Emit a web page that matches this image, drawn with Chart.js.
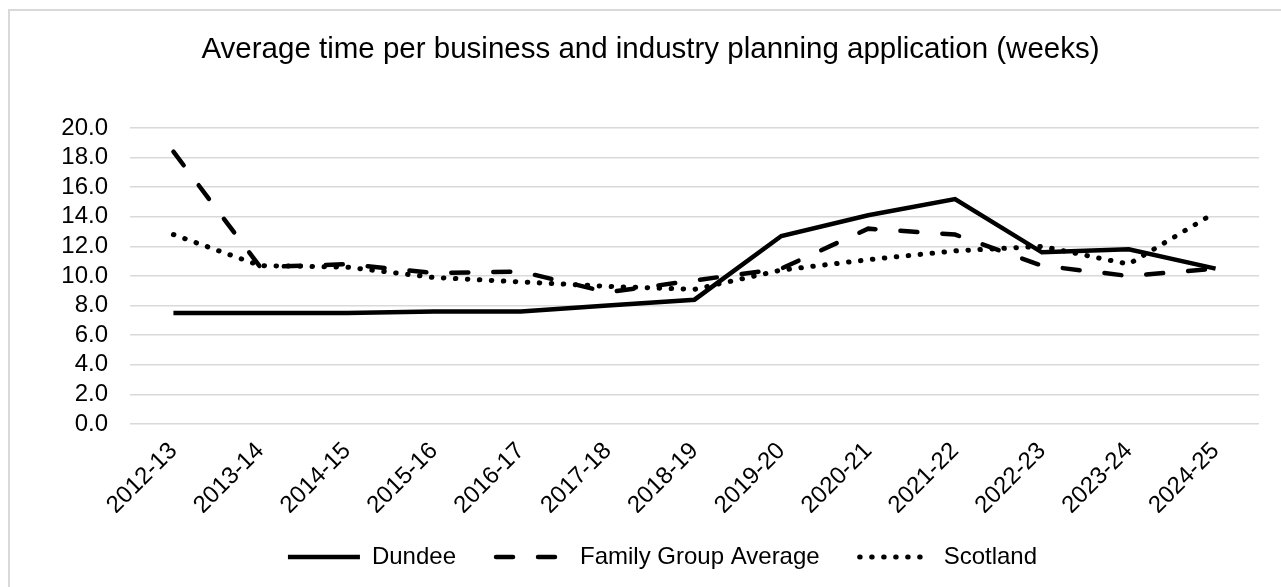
<!DOCTYPE html>
<html>
<head>
<meta charset="utf-8">
<title>Average time per business and industry planning application (weeks)</title>
<script src="https://cdn.jsdelivr.net/npm/chart.js@4.4.1/dist/chart.umd.min.js"></script>
<style>
  html, body { margin: 0; padding: 0; background: #fff; overflow: hidden; }
  .frame { position: absolute; left: 8px; top: 9px; width: 1300px; height: 620px; border: 2px solid #d9d9d9; }
  #chart { position: absolute; left: 0; top: 0; }
</style>
</head>
<body>
<div class="frame"></div>
<canvas id="chart" width="1281" height="587"></canvas>
<script>
// Financial years on the x axis
const years = ['2012-13', '2013-14', '2014-15', '2015-16', '2016-17', '2017-18', '2018-19',
               '2019-20', '2020-21', '2021-22', '2022-23', '2023-24', '2024-25'];

// Average weeks per application
const dundee      = [7.5, 7.5, 7.5, 7.6, 7.6, 8.0, 8.4, 12.7, 14.1, 15.2, 11.6, 11.8, 10.5];
const familyGroup = [18.4, 10.6, 10.8, 10.2, 10.3, 8.9, 9.7, 10.5, 13.2, 12.8, 10.7, 10.0, 10.5];
const scotland    = [12.8, 10.7, 10.6, 9.9, 9.6, 9.3, 9.1, 10.4, 11.1, 11.7, 12.0, 10.8, 14.3];

const yMin = 0;
const yMax = 20;
const yStep = 2;

const FONT = '"Liberation Sans", Arial, sans-serif';
Chart.defaults.font.family = FONT;
Chart.defaults.color = '#000';

const lineStyle = {
  borderColor: '#000',
  backgroundColor: '#000',
  borderWidth: 4.5,
  pointRadius: 0,
  pointHoverRadius: 0,
  tension: 0,
  fill: false
};

// legend entries pick up the dash pattern of their line
const defaultLabels = Chart.defaults.plugins.legend.labels.generateLabels;
function legendLabels(chart) {
  return defaultLabels(chart).map(item => {
    const ds = chart.data.datasets[item.datasetIndex];
    item.lineDash = ds.borderDash || [];
    item.lineCap = ds.borderCapStyle || 'butt';
    item.lineWidth = ds.borderWidth;
    item.strokeStyle = ds.borderColor;
    return item;
  });
}

// the wide item padding makes the legend box tall; pull the row up and nudge it right
const legendShift = {
  id: 'legendShift',
  afterLayout(chart) {
    const lg = chart.legend;
    lg.top -= 8;
    lg.bottom -= 8;
    lg.left += 12;
    lg.right += 12;
  }
};

new Chart(document.getElementById('chart'), {
  type: 'line',
  data: {
    labels: years,
    datasets: [
      { ...lineStyle, label: 'Dundee', data: dundee, borderCapStyle: 'butt' },
      { ...lineStyle, label: 'Family Group Average', data: familyGroup, borderDash: [17, 25], borderCapStyle: 'round' },
      { ...lineStyle, label: 'Scotland', data: scotland, borderWidth: 5, borderDash: [0.5, 11.5], borderCapStyle: 'round' }
    ]
  },
  plugins: [legendShift],
  options: {
    responsive: false,
    animation: false,
    devicePixelRatio: 1,
    layout: { padding: { left: 42, right: 22, top: 0, bottom: 0 } },
    plugins: {
      title: {
        display: true,
        text: 'Average time per business and industry planning application (weeks)',
        color: '#000',
        font: { size: 29.5, weight: 'normal' },
        padding: { top: 32, bottom: 60.6 }
      },
      legend: {
        position: 'bottom',
        labels: {
          usePointStyle: true,
          pointStyle: 'line',
          pointStyleWidth: 72,
          padding: 40,
          color: '#000',
          font: { size: 24 },
          generateLabels: legendLabels
        }
      },
      tooltip: { enabled: false }
    },
    scales: {
      x: {
        offset: true,
        grid: { display: false, drawTicks: false },
        border: { display: false },
        ticks: { autoSkip: false, minRotation: 45, maxRotation: 45, padding: 13, font: { size: 24 }, color: '#000' },
        afterFit(scale) { scale.height = 89; }
      },
      y: {
        min: yMin,
        max: yMax,
        grid: { color: '#d9d9d9', lineWidth: 1.5, drawTicks: false },
        border: { display: false },
        ticks: {
          stepSize: yStep,
          autoSkip: false,
          padding: 22,
          font: { size: 24 },
          color: '#000',
          callback: v => v.toFixed(1)
        },
        afterFit(scale) { scale.width = 88; }
      }
    }
  }
});
</script>
</body>
</html>
